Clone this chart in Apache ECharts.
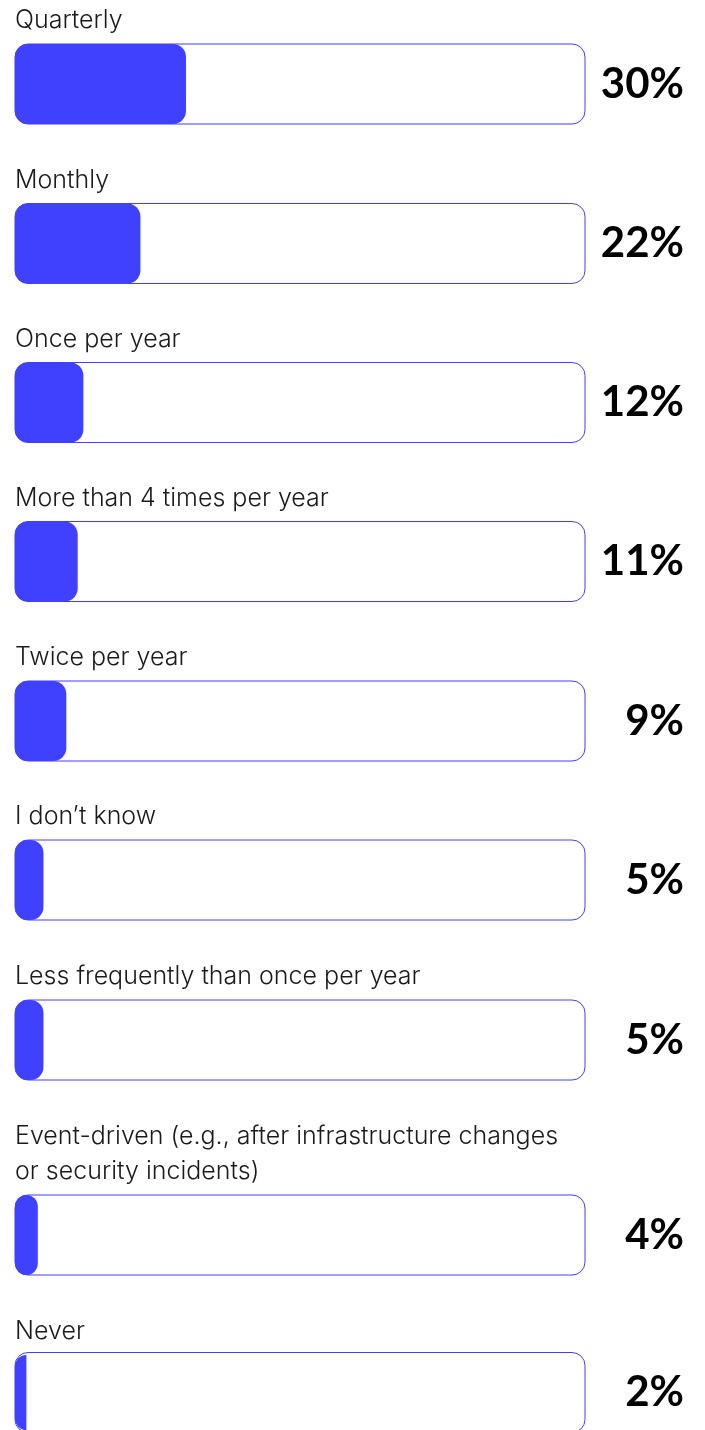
<!DOCTYPE html>
<html>
<head>
<meta charset="utf-8">
<script src="https://cdn.jsdelivr.net/npm/echarts@6/dist/echarts.min.js"></script>
<style>
  html, body { margin: 0; padding: 0; background: #ffffff; }
  #chart { width: 705px; height: 1430px; }
</style>
</head>
<body>
<div id="chart"></div>
<script>
// Survey answers and their shares (percent)
const categories = [
  'Quarterly',
  'Monthly',
  'Once per year',
  'More than 4 times per year',
  'Twice per year',
  'I don\u2019t know',
  'Less frequently than once per year',
  'Event-driven (e.g., after infrastructure changes\nor security incidents)',
  'Never'
];
const values = [30, 22, 12, 11, 9, 5, 5, 4, 2];

// Layout: top edge of each bar track
const trackTops = [44, 203.5, 362.5, 521.5, 681, 840, 1000, 1195, 1355];
const TRACK_LEFT = 15;
const TRACK_WIDTH = 570;
const TRACK_HEIGHT = 80;
const LINE_HEIGHT = 35;
const BLUE = '#4040ff';
const LABEL_FONT = 'Inter';
const VALUE_FONT = 'Lato';

const grids = [], xAxes = [], yAxes = [], series = [], titles = [];

categories.forEach(function (name, i) {
  const top = trackTops[i];
  const lines = name.split('\n').length;
  grids.push({ left: TRACK_LEFT, width: TRACK_WIDTH, top: top, height: TRACK_HEIGHT });
  xAxes.push({ gridIndex: i, type: 'value', min: 0, max: 100, show: false });
  yAxes.push({
    gridIndex: i,
    type: 'category',
    data: [name],
    position: 'right',
    axisLine: { show: false },
    axisTick: { show: false },
    splitLine: { show: false },
    axisLabel: {
      align: 'right',
      margin: 99,
      fontFamily: VALUE_FONT,
      fontWeight: 'bold',
      fontSize: 42,
      color: '#000000',
      formatter: function () { return values[i] + '%'; }
    }
  });
  series.push({
    type: 'bar',
    xAxisIndex: i,
    yAxisIndex: i,
    data: [values[i]],
    barWidth: TRACK_HEIGHT,
    showBackground: true,
    backgroundStyle: {
      color: 'rgba(255,255,255,0)',
      borderColor: BLUE,
      borderWidth: 1,
      borderRadius: 13
    },
    itemStyle: { color: BLUE, borderRadius: values[i] < 3 ? [13, 0, 0, 13] : 13 },
    silent: true,
    animation: false
  });
  titles.push({
    text: name,
    left: TRACK_LEFT,
    top: top - 6 - LINE_HEIGHT * lines,
    padding: 0,
    textStyle: {
      fontFamily: LABEL_FONT,
      fontWeight: 300,
      fontSize: 25,
      lineHeight: LINE_HEIGHT,
      color: '#1a1a1a'
    }
  });
});

const chart = echarts.init(document.getElementById('chart'), null, { renderer: 'canvas' });
chart.setOption({
  backgroundColor: '#ffffff',
  animation: false,
  title: titles,
  grid: grids,
  xAxis: xAxes,
  yAxis: yAxes,
  series: series
});
</script>
</body>
</html>
